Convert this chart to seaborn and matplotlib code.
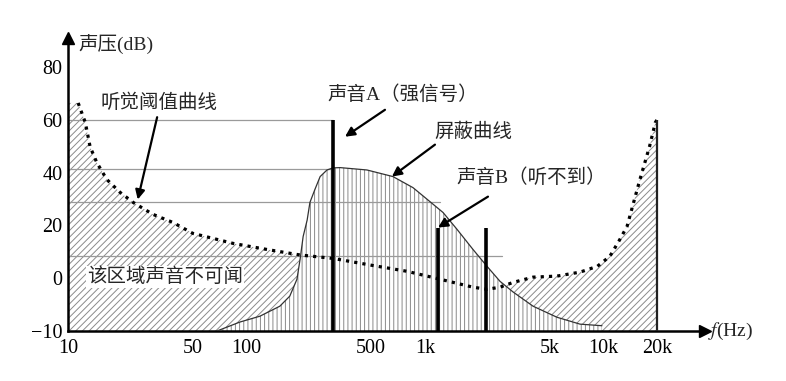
import numpy as np
import matplotlib
matplotlib.use("Agg")
import matplotlib.pyplot as plt
import seaborn as sns

# 听觉阈值曲线 (Hz, dB)
thr_f = [10, 11.4, 12.5, 13.3, 14.5, 16.5, 19.6, 23.2, 29.9, 38.8, 50, 84, 130, 200,
         306, 513, 797, 1220, 1862, 2232, 2641, 3122, 4043, 5510, 7413, 9270, 10900,
         12400, 13600, 16000, 18200, 19600, 20000]
thr_db = [66.4, 66.4, 59, 49.8, 43.8, 37.4, 32.5, 28.7, 24.2, 21.1, 17, 13.2, 10.9, 8.8,
          7.5, 4.8, 2.6, -0.2, -1.7, -2.1, -1.7, -0.8, 0.4, 0.8, 2.3, 4.5, 8.3,
          14.7, 19.6, 37, 50, 59, 60]

# 屏蔽曲线
mask_f = [68.4, 92, 119, 154, 175, 192, 200, 208, 219, 227, 242, 259, 283, 306, 335,
          474, 663, 859, 1069, 1265, 1516, 1862, 2232, 2641, 3122, 4043, 5510, 7413, 9840]
mask_db = [-10, -8.3, -7.2, -5.3, -3.4, -0.2, 7.2, 15.8, 22, 28.7, 33.6, 38.5, 41, 41.8, 41.9,
           41, 38.5, 34.3, 29, 24.9, 18.5, 10.9, 4.5, -0.6, -2.6, -5.3, -7.4, -8.7, -9]

# 纯音
tone_f = [306, 1186, 2205]
tone_db = [60, 19, 19]

# 参考水平线
ref_db = [60, 41.5, 29, 8.3]
ref_end = [306, 306, 1217, 2700]

xticks = [10, 50, 100, 500, 1000, 5000, 10000, 20000]
xlabels = ["10", "50", "100", "500", "1k", "5k", "10k", "20k"]
yticks = [-10, 0, 20, 40, 60, 80]
ylabels = ["\u221210", "0", "20", "40", "60", "80"]

sns.set_theme(style="white")
plt.rcParams["hatch.linewidth"] = 0.7
plt.rcParams["mathtext.fontset"] = "stix"
fam = ["Liberation Serif", "Noto Sans CJK SC"]

fig = plt.figure(figsize=(7.86, 3.81), dpi=100)
ax = fig.add_axes([68 / 786, 1 - 331 / 381, (705 - 68) / 786, (331 - 38) / 381])
ax.set_xscale("log")


# 纵轴 0 以下拉伸一倍
def fwd(y):
    y = np.asarray(y, float)
    return np.where(y < 0, 2 * y, y)


def inv(u):
    u = np.asarray(u, float)
    return np.where(u < 0, u / 2, u)


ax.set_yscale("function", functions=(fwd, inv))
ax.set_xlim(10, 37200)
ax.set_ylim(-10, 91)

# 阈值以下区域
ax.fill_between(thr_f, thr_db, -10, facecolor="white", edgecolor="#8a8a8a",
                hatch="/////", linewidth=0, zorder=1)
# 屏蔽区域
ax.fill_between(mask_f, mask_db, -10, facecolor="white", edgecolor="#8a8a8a",
                hatch="||||", linewidth=0, zorder=2)

for d, e in zip(ref_db, ref_end):
    ax.plot([10, e], [d, d], color="#9a9a9a", lw=0.9, zorder=2.5)

sns.lineplot(x=mask_f, y=mask_db, color="#333333", lw=0.9, ax=ax, zorder=3)
sns.lineplot(x=thr_f[1:], y=thr_db[1:], color="black", lw=2.3,
             linestyle=(0, (1, 1.6)), ax=ax, zorder=4)
ax.vlines(thr_f[-1], -10, thr_db[-1], color="#222222", lw=1.6, zorder=4)
ax.vlines(tone_f, -10, tone_db, color="black", lw=2.6, zorder=5)

for s in ["top", "right"]:
    ax.spines[s].set_visible(False)
for s in ["left", "bottom"]:
    ax.spines[s].set_color("black")
    ax.spines[s].set_linewidth(1.8)
ax.plot(1, 0, ">", color="black", ms=8, transform=ax.transAxes, clip_on=False)
ax.plot(0, 1, "^", color="black", ms=8, transform=ax.transAxes, clip_on=False)

ax.set_xticks(xticks)
ax.set_xticklabels(xlabels)
ax.xaxis.set_minor_locator(matplotlib.ticker.NullLocator())
ax.set_yticks(yticks)
ax.set_yticklabels(ylabels)
ax.tick_params(axis="x", direction="in", length=5, width=1.6, color="black", pad=6)
ax.tick_params(axis="y", direction="in", length=3, width=1.6, color="black", pad=4)
for lab in ax.get_xticklabels() + ax.get_yticklabels():
    lab.set_family("Liberation Serif")
    lab.set_fontsize(14.5)
    lab.set_color("black")

ax.set_xlabel("")
ax.set_ylabel("")

ax.text(11.4, 88.3, "声压(dB)", family=fam, fontsize=14, ha="left", va="center")
ax.text(38600, -10, "$f$(Hz)", family=fam, fontsize=14, ha="left", va="center")

txt = dict(family=fam, fontsize=14, fontweight="medium", ha="center", va="center", zorder=6)
arr = dict(arrowstyle="-|>", color="black", lw=1.6, mutation_scale=14,
           shrinkA=0, shrinkB=0)

ax.text(32.4, 66.4, "听觉阈值曲线", **txt)
ax.annotate("", xy=(24.6, 29.8), xytext=(31.6, 61), arrowprops=arr, zorder=6)

ax.text(755, 69.4, "声音A（强信号）", **txt)
ax.annotate("", xy=(357, 53.6), xytext=(598, 63.8), arrowprops=arr, zorder=6)

ax.text(1862, 55.5, "屏蔽曲线", **txt)
ax.annotate("", xy=(654, 38.5), xytext=(1140, 50.6), arrowprops=arr, zorder=6)

ax.text(3937, 38.1, "声音B（听不到）", **txt)
ax.annotate("", xy=(1186, 19.2), xytext=(2260, 30.9), arrowprops=arr, zorder=6)

ax.text(35, 0.4, "该区域声音不可闻", bbox=dict(facecolor="white", edgecolor="none", pad=1), **txt)

fig.savefig("out.png", dpi=100)
